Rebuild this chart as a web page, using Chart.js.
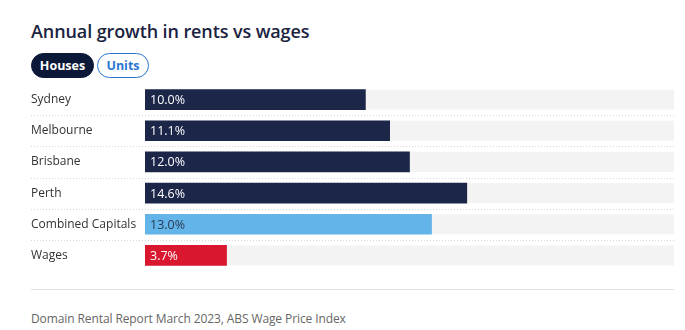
<!DOCTYPE html>
<html>
<head>
<meta charset="utf-8">
<script src="https://cdn.jsdelivr.net/npm/chart.js@4.4.0/dist/chart.umd.min.js"></script>
<style>
  body { margin: 0; background: #fff; font-family: "Open Sans", sans-serif; }
  #wrap { position: relative; width: 685px; height: 330px; }
  h2 { position: absolute; left: 31px; top: 19px; margin: 0; font-size: 18px; font-weight: 600; color: #1a2340; letter-spacing: -0.1px; }
  .pill { position: absolute; top: 53px; height: 25px; box-sizing: border-box; border-radius: 13px; font-size: 12.5px; font-weight: 700; line-height: 23px; text-align: center; }
  #houses { left: 31px; width: 63px; background: #0c1837; color: #fff; border: 1px solid #0c1837; }
  #units { left: 97px; width: 52px; background: #fff; color: #2a76d2; border: 1px solid #2a76d2; }
  #chartBox { position: absolute; left: 31px; top: 84px; width: 643px; height: 187px; }
  #rule { position: absolute; left: 31px; top: 289px; width: 643px; height: 1px; background: #e2e2e2; }
  #source { position: absolute; left: 31px; top: 310px; font-size: 12px; color: #666; letter-spacing: -0.1px; }
</style>
</head>
<body>
<div id="wrap">
  <h2>Annual growth in rents vs wages</h2>
  <div class="pill" id="houses">Houses</div>
  <div class="pill" id="units">Units</div>
  <div id="chartBox"><canvas id="barChart"></canvas></div>
  <div id="rule"></div>
  <div id="source">Domain Rental Report March 2023, ABS Wage Price Index</div>
</div>
<script>
const categories = ['Sydney', 'Melbourne', 'Brisbane', 'Perth', 'Combined Capitals', 'Wages']
const growth = [10.0, 11.1, 12.0, 14.6, 13.0, 3.7]
const barColors = ['#1b2649', '#1b2649', '#1b2649', '#1b2649', '#63b4e8', '#d9182f']
const labelColors = ['#fff', '#fff', '#fff', '#fff', '#2b3a55', '#fff']
const axisMax = 24

// grey track behind each bar + dotted separators between rows
const trackPlugin = {
  id: 'track',
  beforeDatasetsDraw(chart) {
    const ctx = chart.ctx
    const area = chart.chartArea
    const meta = chart.getDatasetMeta(0)
    ctx.save()
    meta.data.forEach((bar, i) => {
      ctx.fillStyle = '#f3f3f3'
      ctx.fillRect(area.left, bar.y - bar.height / 2, area.right - area.left, bar.height)
    })
    ctx.strokeStyle = '#d6d6d6'
    ctx.lineWidth = 1
    ctx.setLineDash([1, 2])
    const yScale = chart.scales.y
    for (let i = 0; i < categories.length - 1; i++) {
      const y = Math.round((yScale.getPixelForValue(i) + yScale.getPixelForValue(i + 1)) / 2) + 0.5
      ctx.beginPath()
      ctx.moveTo(0, y)
      ctx.lineTo(area.right, y)
      ctx.stroke()
    }
    ctx.restore()
  },
  afterDatasetsDraw(chart) {
    const ctx = chart.ctx
    const meta = chart.getDatasetMeta(0)
    ctx.save()
    ctx.font = '12.5px "Open Sans"'
    ctx.textBaseline = 'middle'
    meta.data.forEach((bar, i) => {
      ctx.fillStyle = labelColors[i]
      ctx.fillText(growth[i].toFixed(1) + '%', bar.base + 5, bar.y + 1)
    })
    ctx.restore()
  }
}

const chart = new Chart(document.getElementById('barChart'), {
  type: 'bar',
  data: {
    labels: categories,
    datasets: [{
      data: growth,
      backgroundColor: barColors,
      barThickness: 20,
      borderWidth: 0
    }]
  },
  options: {
    indexAxis: 'y',
    responsive: true,
    maintainAspectRatio: false,
    animation: false,
    layout: { padding: 0 },
    plugins: { legend: { display: false }, tooltip: { enabled: false } },
    scales: {
      x: { display: false, min: 0, max: axisMax },
      y: {
        grid: { display: false },
        border: { display: false },
        afterFit(scale) {
          scale.width = 114
          scale.paddingTop = 0
          scale.paddingBottom = 0
        },
        ticks: {
          crossAlign: 'far',
          padding: 0,
          color: '#333',
          font: { family: 'Open Sans', size: 12 }
        }
      }
    }
  },
  plugins: [trackPlugin]
})
</script>
</body>
</html>
